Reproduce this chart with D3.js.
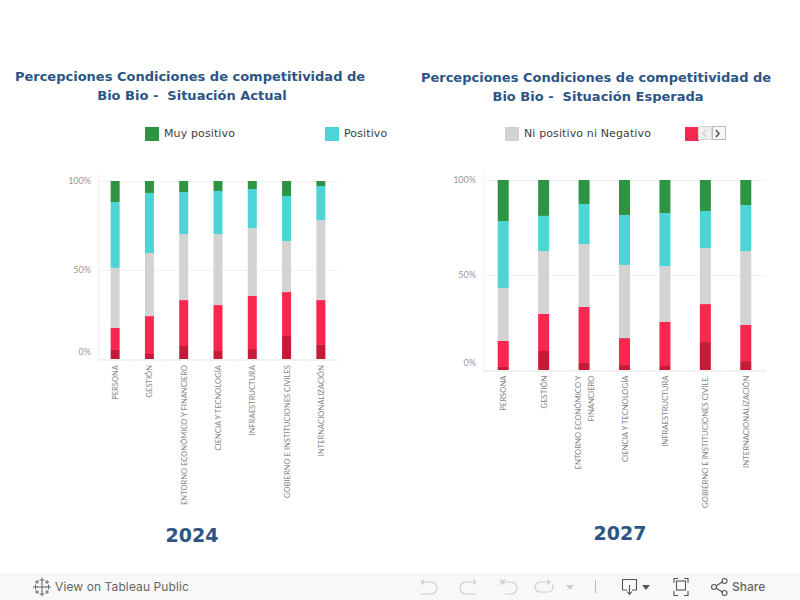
<!DOCTYPE html>
<html><head><meta charset="utf-8">
<script src="https://d3js.org/d3.v7.min.js"></script>
<style>html,body{margin:0;padding:0;background:#fff}svg{display:block}</style></head>
<body><svg id="c" width="800" height="600"></svg>
<script>
const series = ["Muy negativo","Negativo","Ni positivo ni Negativo","Positivo","Muy positivo"];
const colors = ["#c51a38","#f7274f","#d3d3d3","#4dd4d6","#2e9343"];
const pctTicks = [0,50,100];
const labels2024 = ["PERSONA","GESTIÓN","ENTORNO ECONÓMICO Y FINANCIERO","CIENCIA Y TECNOLOGÍA","INFRAESTRUCTURA","GOBIERNO E INSTITUCIONES CIVILES","INTERNACIONALIZACIÓN"];
const labels2027 = ["PERSONA","GESTIÓN","ENTORNO ECONÓMICO Y|FINANCIERO","CIENCIA Y TECNOLOGÍA","INFRAESTRUCTURA","GOBIERNO E INSTITUCIONES CIVILE.","INTERNACIONALIZACIÓN"];
const muyNeg2024 = [5.1,2.8,7.3,4.5,5.6,12.9,7.9];
const neg2024    = [12.4,21.3,25.8,25.8,29.8,24.7,25.2];
const neutro2024 = [33.7,35.4,37.1,39.9,38.2,28.7,45.0];
const pos2024    = [37.0,33.8,23.6,24.2,21.9,25.3,19.1];
const muyPos2024 = [11.8,6.7,6.2,5.6,4.5,8.4,2.8];
const muyNeg2027 = [1.6,10.0,3.7,2.6,2.1,14.7,4.7];
const neg2027    = [13.7,19.5,29.5,14.2,23.2,20.0,19.0];
const neutro2027 = [27.9,33.1,33.1,38.5,29.4,29.5,38.9];
const pos2027    = [35.2,18.5,21.1,26.3,27.9,19.5,24.2];
const muyPos2027 = [21.6,18.9,12.6,18.4,17.4,16.3,13.2];

const svg = d3.select("#c");
const navy = "#2c5585";

function panel(o){
  const g = svg.append("g");
  const x = d3.scaleBand().domain(o.labels).range([o.x0,o.x1]);
  const y = d3.scaleLinear().domain([0,100]).range([o.y0,o.y100]);
  g.selectAll(".grid").data(pctTicks).join("line")
    .attr("x1",o.x0).attr("x2",o.x1).attr("y1",d=>Math.round(y(d))+.5).attr("y2",d=>Math.round(y(d))+.5)
    .attr("stroke","#f2f2f2");
  g.append("line").attr("x1",o.x0+.5).attr("x2",o.x0+.5).attr("y1",o.y100-9).attr("y2",o.y0+4).attr("stroke","#f2f2f2");
  g.append("line").attr("x1",o.x0).attr("x2",o.x1).attr("y1",o.y0+1.5).attr("y2",o.y0+1.5).attr("stroke","#f2f2f2");
  g.selectAll(".tk").data(o.labels).join("line")
    .attr("x1",d=>Math.round(x(d))+.5).attr("x2",d=>Math.round(x(d))+.5)
    .attr("y1",o.y0+1).attr("y2",o.y0+5).attr("stroke","#f2f2f2");
  g.selectAll(".yl").data(pctTicks).join("text")
    .attr("x",o.x0-7).attr("y",d=>d===0?y(d)-4.5:y(d)+3)
    .attr("text-anchor","end").attr("font-family","Lato, 'Open Sans', sans-serif")
    .attr("font-size",9).attr("fill","#999").text(d=>d+"%");
  const rows = o.labels.map((l,i)=>({l, ...Object.fromEntries(series.map((s,k)=>[s,o.values[k][i]]))}));
  const st = d3.stack().keys(series)(rows);
  g.selectAll(".s").data(st).join("g").attr("fill",(d,i)=>colors[i])
    .selectAll("rect").data(d=>d).join("rect")
    .attr("x",d=>x(d.data.l)+x.bandwidth()/2-o.bw/2)
    .attr("width",o.bw)
    .attr("y",d=>y(d[1]))
    .attr("height",d=>y(d[0])-y(d[1]));
  o.labels.forEach(l=>{
    const lines = l.split("|");
    const cx = x(l)+x.bandwidth()/2;
    lines.forEach((t,i)=>{
      const dx = (i-(lines.length-1)/2)*o.lineGap;
      g.append("text")
        .attr("transform",`translate(${cx+dx+3},${o.labelTop}) rotate(-90)`)
        .attr("text-anchor","end").attr("font-family","Lato, 'Open Sans', sans-serif")
        .attr("font-size",o.labelSize).attr("fill","#858585").text(t);
    });
  });
  const cid = "clip"+o.year;
  svg.append("clipPath").attr("id",cid).append("rect").attr("x",o.tcx-200).attr("y",60).attr("width",400).attr("height",o.tClip-60);
  const tg = svg.append("g").attr("clip-path",`url(#${cid})`);
  [o.t1,o.t2].forEach((t,i)=>tg.append("text").attr("x",o.tcx+i*2).attr("y",o.tY+i*18.8)
     .attr("text-anchor","middle").attr("font-family","'DejaVu Sans'").attr("font-weight","bold")
     .attr("font-size",13).attr("fill",navy).style("white-space","pre").text(t));
  svg.append("text").attr("x",o.tcx+o.yearDx).attr("y",o.yearY).attr("text-anchor","middle")
    .attr("font-family","'DejaVu Sans'").attr("font-weight","bold").attr("font-size",19).attr("fill",navy).text(o.year);
}

panel({year:"2024",labels:labels2024,values:[muyNeg2024,neg2024,neutro2024,pos2024,muyPos2024],
  x0:98,x1:338,y0:359,y100:181,bw:9,labelTop:365,labelSize:7.6,lineGap:13,
  t1:"Percepciones Condiciones de competitividad de",t2:"Bio Bio -  Situación Actual",tcx:190,tY:81,tClip:102,yearDx:2,yearY:542});
panel({year:"2027",labels:labels2027,values:[muyNeg2027,neg2027,neutro2027,pos2027,muyPos2027],
  x0:483,x1:766,y0:370,y100:180,bw:11,labelTop:375.5,labelSize:7.7,lineGap:13,
  t1:"Percepciones Condiciones de competitividad de",t2:"Bio Bio -  Situación Esperada",tcx:596,tY:82,tClip:103,yearDx:24,yearY:540});

const legendItems = [[145,"Muy positivo",4],[325,"Positivo",3],[505,"Ni positivo ni Negativo",2],[685,"",1]];
const lg = svg.append("g");
lg.selectAll("rect").data(legendItems).join("rect")
  .attr("x",d=>d[0]).attr("y",127).attr("width",14).attr("height",14).attr("fill",d=>colors[d[2]]);
lg.selectAll("text").data(legendItems).join("text")
  .attr("x",d=>d[0]+19).attr("y",137).attr("font-family","'DejaVu Sans'").attr("font-size",11)
  .attr("letter-spacing",.12).attr("fill","#3e3e3e").text(d=>d[1]);
[[698.5,"#d8d8d8","M706 130l-3 3.5 3 3.5"],[712.5,"#bbb","M716 130l3 3.5-3 3.5"]].forEach(b=>{
  lg.append("rect").attr("x",b[0]).attr("y",126.5).attr("width",13).attr("height",13).attr("fill",b[0]<700?"#efefef":"#f6f6f6").attr("stroke",b[1]);
  lg.append("path").attr("d",b[2]).attr("fill","none").attr("stroke",b[0]<700?"#cfcfcf":"#555").attr("stroke-width",1.5);
});

const tb = svg.append("g");
tb.append("rect").attr("x",0).attr("y",573).attr("width",800).attr("height",27).attr("fill","#f8f8f8");
const logo = tb.append("g").attr("stroke","#666").attr("stroke-width",1).attr("fill","none");
[[42,587,5],[35.5,587,2.5],[48.5,587,2.5],[42,580,2.5],[42,594,2.5],[37,582,2],[47,582,2],[37,592,2],[47,592,2]].forEach(c=>{
  logo.append("path").attr("d",`M${c[0]-c[2]} ${c[1]}h${2*c[2]}M${c[0]} ${c[1]-c[2]}v${2*c[2]}`);
});
tb.append("text").attr("x",55).attr("y",591).attr("font-family","Inter, 'Liberation Sans', sans-serif").attr("font-size",12).attr("letter-spacing",.1).attr("fill","#666").text("View on Tableau Public");
const off = tb.append("g").attr("fill","none").attr("stroke","#cdcdcd").attr("stroke-width",1.2);
off.append("path").attr("d","M421 582h10a5.5 5.5 0 0 1 0 12h-10M421 582l3-2.5M421 582l3 2.5");
off.append("path").attr("d","M476 582h-10a5.5 5.5 0 0 0 0 12h10M476 582l-3-2.5M476 582l-3 2.5");
off.append("path").attr("d","M501 579v6M502 582h9a5.5 5.5 0 0 1 0 12h-6M502 582l3-2.5M502 582l3 2.5");
off.append("path").attr("d","M550 582h-10a5 5 0 0 0 0 10h9a5 5 0 0 0 3-8M550 582l-3-2.5M550 582l-3 2.5");
tb.append("path").attr("d","M566 585h8l-4 5z").attr("fill","#cdcdcd");
tb.append("line").attr("x1",595.5).attr("x2",595.5).attr("y1",580).attr("y2",593).attr("stroke","#bbb");
const on = tb.append("g").attr("fill","none").attr("stroke","#555").attr("stroke-width",1.1);
on.append("path").attr("d","M627 590h-4.5v-10.5h14v10.5h-4.5M629.5 585v9M627 591.5l2.5 3 2.5-3");
tb.append("path").attr("d","M642 585h8l-4 5z").attr("fill","#555");
on.append("path").attr("d","M674 583v-4.5h4M684 578.5h4v4.5M688 591v4.5h-4M678 595.5h-4v-4.5");
on.append("rect").attr("x",676.5).attr("y",581).attr("width",9).attr("height",9);
on.append("path").attr("d","M716 586l7-4.5M716 588l7 4.5");
on.append("circle").attr("cx",714).attr("cy",587).attr("r",2.5);
on.append("circle").attr("cx",724.5).attr("cy",581).attr("r",2.5);
on.append("circle").attr("cx",724.5).attr("cy",593).attr("r",2.5);
tb.append("text").attr("x",732).attr("y",591).attr("font-family","Inter, 'Liberation Sans', sans-serif").attr("font-weight",500).attr("font-size",12).attr("fill","#666").text("Share");
</script></body></html>
